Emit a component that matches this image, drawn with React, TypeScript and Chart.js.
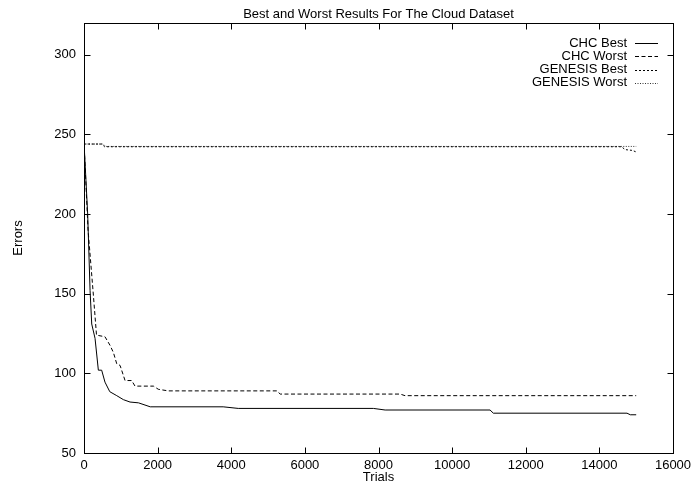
import React, { useEffect, useRef } from "react";
import { Chart, registerables } from "chart.js";

Chart.register(...registerables);

const chartTitle = "Best and Worst Results For The Cloud Dataset";
const xAxisTitle = "Trials";
const yAxisTitle = "Errors";

const xTicks = [0, 2000, 4000, 6000, 8000, 10000, 12000, 14000, 16000];
const yTicks = [50, 100, 150, 200, 250, 300];

const seriesLabels = ["CHC Best", "CHC Worst", "GENESIS Best", "GENESIS Worst"];

const chcBestTrials = [0, 100, 165, 210, 300, 390, 480, 570, 700, 890, 1070, 1250, 1480, 1800, 3780, 4190, 7860, 8180, 11030, 11120, 14750, 14840, 15000];
const chcBestErrors = [245, 200, 152, 131, 122, 102, 102, 94.5, 88.5, 86, 83.5, 82, 81.5, 79, 79, 78, 78, 77, 77, 75, 75, 74, 74];

const chcWorstTrials = [0, 110, 245, 340, 570, 710, 800, 890, 980, 1115, 1295, 1385, 1885, 2020, 2290, 5240, 5330, 8590, 8720, 15000];
const chcWorstErrors = [245, 190, 152, 124, 123, 117.5, 113, 106, 105, 95.5, 95.5, 92, 92, 90, 89, 89, 87, 87, 86, 86];

const genesisBestTrials = [0, 480, 560, 14600, 14700, 14900, 15000];
const genesisBestErrors = [244, 244, 242.3, 242.3, 240.5, 240, 239];

const genesisWorstTrials = [0, 500, 600, 15000];
const genesisWorstErrors = [244, 244, 242.5, 242.5];

const FONT = '"Liberation Sans", Arial, Helvetica, sans-serif';
const FS = 13;

function pts(xs: number[], ys: number[]) {
  return xs.map((x, i) => ({ x, y: ys[i] }));
}

const gnuplotFrame = {
  id: "gnuplotFrame",
  afterDatasetsDraw(chart: any) {
    const { ctx, chartArea: a, scales } = chart;
    ctx.save();
    ctx.strokeStyle = "#000";
    ctx.lineWidth = 1;
    ctx.setLineDash([]);
    const L = Math.round(a.left) + 0.5;
    const R = Math.round(a.right) + 0.5;
    const T = Math.round(a.top) + 0.5;
    const B = Math.round(a.bottom) + 0.5;
    ctx.strokeRect(L, T, R - L, B - T);
    const len = 6;
    ctx.beginPath();
    for (const v of xTicks) {
      const px = Math.round(scales.x.getPixelForValue(v)) + 0.5;
      ctx.moveTo(px, B);
      ctx.lineTo(px, B - len);
      ctx.moveTo(px, T);
      ctx.lineTo(px, T + len);
    }
    for (const v of yTicks) {
      const py = Math.round(scales.y.getPixelForValue(v)) + 0.5;
      ctx.moveTo(L, py);
      ctx.lineTo(L + len, py);
      ctx.moveTo(R, py);
      ctx.lineTo(R - len, py);
    }
    ctx.stroke();

    // legend (gnuplot style: text, then line sample)
    ctx.font = `${FS}px ${FONT}`;
    ctx.textAlign = "right";
    ctx.textBaseline = "middle";
    ctx.fillStyle = "#000";
    chart.data.datasets.forEach((ds: any, i: number) => {
      const y = a.top + 20 + i * 13.3;
      ctx.fillText(ds.label, a.right - 46, y);
      ctx.strokeStyle = ds.borderColor;
      ctx.setLineDash(ds.borderDash || []);
      ctx.beginPath();
      const yy = Math.round(y) + 0.5;
      ctx.moveTo(a.right - 38, yy);
      ctx.lineTo(a.right - 15, yy);
      ctx.stroke();
    });
    ctx.restore();
  },
};

export default function App() {
  const ref = useRef<HTMLCanvasElement>(null);
  useEffect(() => {
    if (!ref.current) return;
    const styles = [
      { dash: [], color: "#000" },
      { dash: [4, 2.5], color: "#000" },
      { dash: [2, 2], color: "#000" },
      { dash: [1, 1.5], color: "#333" },
    ];
    const data = [
      pts(chcBestTrials, chcBestErrors),
      pts(chcWorstTrials, chcWorstErrors),
      pts(genesisBestTrials, genesisBestErrors),
      pts(genesisWorstTrials, genesisWorstErrors),
    ];
    const chart = new Chart(ref.current, {
      type: "line",
      data: {
        datasets: seriesLabels.map((label, i) => ({
          label,
          data: data[i],
          borderColor: styles[i].color,
          borderDash: styles[i].dash,
          borderWidth: 1,
          pointRadius: 0,
          fill: false,
          tension: 0,
        })),
      },
      options: {
        responsive: false,
        animation: false,
        layout: { padding: { left: 0, right: 18, top: 0, bottom: 0 } },
        plugins: {
          legend: { display: false },
          tooltip: { enabled: false },
          title: {
            display: true,
            text: chartTitle,
            fullSize: false,
            color: "#000",
            font: { family: FONT, size: FS, weight: "normal" },
            padding: { top: 6.5, bottom: 0.9 },
          },
        },
        scales: {
          x: {
            type: "linear",
            min: 0,
            max: 16000,
            grid: { display: false, drawTicks: false },
            border: { display: false },
            afterBuildTicks: (s: any) => {
              s.ticks = xTicks.map((v) => ({ value: v }));
            },
            afterFit: (s: any) => {
              s.height = 33;
              s.paddingLeft = 0;
              s.paddingRight = 0;
            },
            ticks: {
              color: "#000",
              padding: 5,
              maxRotation: 0,
              autoSkip: false,
              font: { family: FONT, size: FS },
              callback: (v: any) => String(v),
            },
            title: {
              display: true,
              text: xAxisTitle,
              color: "#000",
              font: { family: FONT, size: FS },
              padding: { top: 0, bottom: 0.5 },
            },
          },
          y: {
            type: "linear",
            min: 50,
            max: 320,
            grid: { display: false, drawTicks: false },
            border: { display: false },
            afterBuildTicks: (s: any) => {
              s.ticks = yTicks.map((v) => ({ value: v }));
            },
            afterFit: (s: any) => {
              s.width = 84;
              s.paddingTop = 0;
              s.paddingBottom = 0;
            },
            ticks: {
              color: "#000",
              padding: 8,
              autoSkip: false,
              font: { family: FONT, size: FS },
              callback: (v: any) => String(v),
            },
            title: {
              display: true,
              text: yAxisTitle,
              color: "#000",
              font: { family: FONT, size: FS },
              padding: { top: 10.2, bottom: 0 },
            },
          },
        },
      },
      plugins: [gnuplotFrame],
    } as any);
    return () => chart.destroy();
  }, []);
  return (
    <div style={{ position: "absolute", left: 0, top: 0, width: 691, height: 486, background: "#fff" }}>
      <canvas ref={ref} width={691} height={486} style={{ display: "block" }} />
    </div>
  );
}
